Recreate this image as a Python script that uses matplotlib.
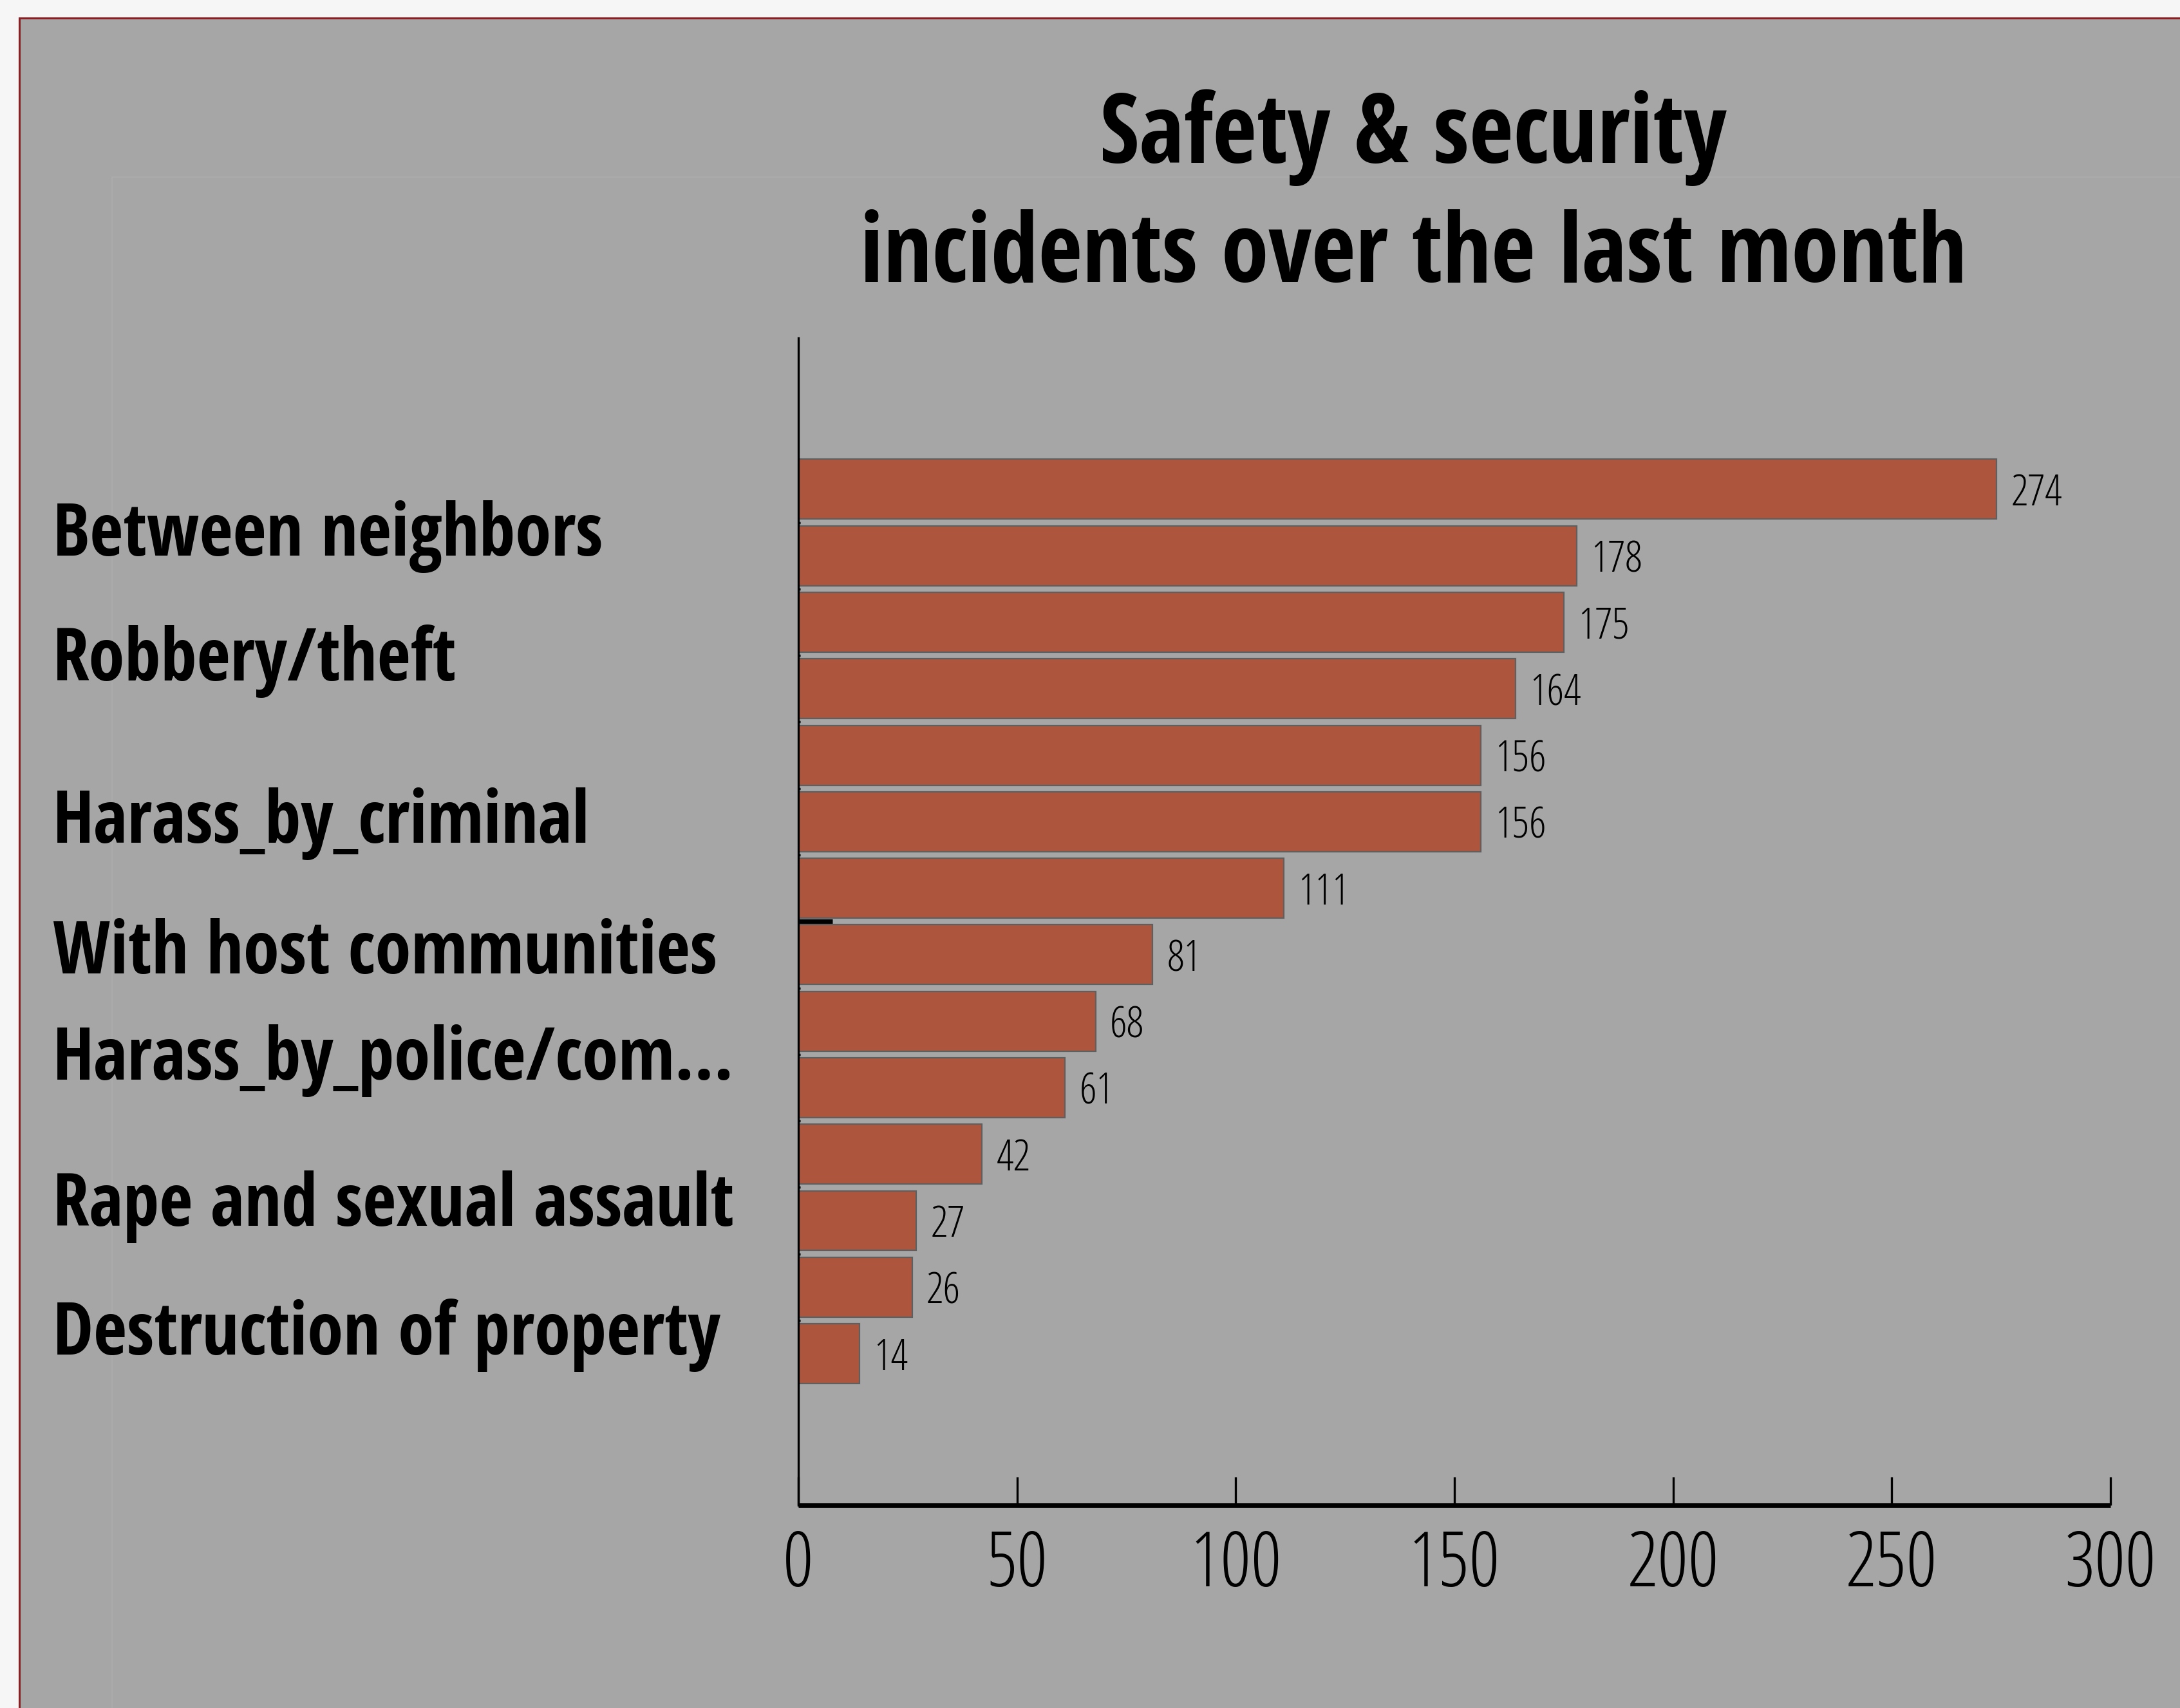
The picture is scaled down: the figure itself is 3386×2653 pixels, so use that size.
import math
import matplotlib
matplotlib.use("Agg")
import matplotlib.pyplot as plt
import matplotlib.transforms as mtransforms
from matplotlib import font_manager as fm
from matplotlib.font_manager import FontProperties
from matplotlib.textpath import TextPath
from matplotlib.patches import Rectangle

# ---- data -------------------------------------------------------------
values = [274, 178, 175, 164, 156, 156, 111, 81, 68, 61, 42, 27, 26, 14]
category_labels = [
    "Between neighbors",
    "Robbery/theft",
    "Harass_by_criminal",
    "With host communities",
    "Harass_by_police/com...",
    "Rape and sexual assault",
    "Destruction of property",
]
x_ticks = [0, 50, 100, 150, 200, 250, 300]
title_lines = ["Safety & security", "incidents over the last month"]

# ---- layout -----------------------------------------------------------
W, H, DPI = 3386, 2653, 100
label_rows = [1.0, 2.88, 5.32, 7.28, 8.88, 11.08, 13.01]   # baseline rows of the side labels
PANEL = "#a6a6a6"
BAR = "#ad553d"
BAR_EDGE = "#5f5f5f"

ALLOWED = {
    "DejaVu Sans", "Liberation Sans", "Liberation Sans Narrow",
    "Noto Sans", "Noto Sans Condensed", "Noto Sans SemiCondensed",
    "Noto Sans ExtraCondensed", "Roboto", "Roboto Condensed",
    "Open Sans", "Open Sans Condensed", "Open Sans SemiCondensed",
    "Lato", "Inter",
}


def _weight(f):
    w = f.weight
    if isinstance(w, str):
        w = fm.weight_dict.get(w, 400)
    return int(w)


def ink(prop, s):
    return TextPath((0, 0), s, size=100, prop=prop).get_extents()


def choose_font(weights, sample, ref_ratio):
    """Pick the installed face whose width/cap-height ratio is closest to ref_ratio."""
    best = None
    seen = set()
    for f in fm.fontManager.ttflist:
        if f.name not in ALLOWED or f.style != "normal" or f.fname in seen:
            continue
        if _weight(f) not in weights:
            continue
        seen.add(f.fname)
        try:
            prop = FontProperties(fname=f.fname)
            r = ink(prop, sample).width / ink(prop, "H").height
        except Exception:
            continue
        score = abs(math.log(r / ref_ratio))
        if best is None or score < best[0]:
            best = (score, prop)
    if best is None:
        return FontProperties(family="DejaVu Sans", weight="bold" if 700 in weights else "normal")
    return best[1]


def size_for_width(prop, s, px):
    return px * 72.0 / DPI * 100.0 / ink(prop, s).width


def size_for_height(prop, s, px):
    return px * 72.0 / DPI * 100.0 / ink(prop, s).height


title_font = choose_font({600, 700, 800}, title_lines[1], 1703 / 120)
label_font = choose_font({600, 700, 800}, category_labels[0], 844 / 90)
num_font = choose_font({300, 400}, "300", 138 / 87)

title_size = size_for_width(title_font, title_lines[1], 1703)
label_size = min(size_for_width(label_font, category_labels[0], 844),
                 size_for_width(label_font, category_labels[4], 1060))
tick_size = size_for_height(num_font, "0", 87)
value_size = size_for_height(num_font, "274", 48)


def fp(base, size):
    p = base.copy()
    p.set_size(size)
    return p


# ---- figure -----------------------------------------------------------
fig = plt.figure(figsize=(W / DPI, H / DPI), dpi=DPI, facecolor="#f6f6f6")

panel = Rectangle((29.5 / W, -0.02), 1.2, 1 - 28.0 / H + 0.02,
                  transform=fig.transFigure, facecolor=PANEL,
                  edgecolor="#8c1d23", linewidth=2.2, zorder=-10)
fig.add_artist(panel)
inner = Rectangle((174.0 / W, -0.02), 1.2, 1 - 275.0 / H + 0.02,
                  transform=fig.transFigure, fill=False,
                  edgecolor="#adadad", linewidth=1.2, zorder=-9)
fig.add_artist(inner)

x0, x1 = 1240.0 / W, 3278.0 / W
y0, y1 = 1 - 2338.0 / H, 1 - 525.0 / H
ax = fig.add_axes([x0, y0, x1 - x0, y1 - y0])
ax.patch.set_visible(False)

rows = list(range(len(values)))
bars = ax.barh(rows, values, height=0.9, color=BAR, edgecolor=BAR_EDGE,
               linewidth=1.6, zorder=2)

ax.set_xlim(0, 300)
ax.set_ylim(15.28, -2.275)

for spine in ("top", "right"):
    ax.spines[spine].set_visible(False)
ax.spines["left"].set_linewidth(2.4)
ax.spines["left"].set_color("black")
ax.spines["bottom"].set_linewidth(5)
ax.spines["bottom"].set_color("black")
ax.spines["bottom"].set_capstyle("butt")

ax.set_xticks(x_ticks)
ax.set_xticklabels([str(t) for t in x_ticks], fontproperties=fp(num_font, tick_size))
ax.tick_params(axis="x", direction="in", length=32, width=2.4, color="black", pad=26)

# small separators between bars on the value axis
sep = [i + 0.5 for i in range(len(values) - 1) if i != 6]
ax.set_yticks(sep)
ax.set_yticklabels([])
ax.tick_params(axis="y", which="major", direction="in", length=2.5, width=2.5,
               color="black", left=True)
ax.set_yticks([6.5], minor=True)
ax.tick_params(axis="y", which="minor", direction="in", length=38, width=5,
               color="black")

# value labels
for b, v in zip(bars, values):
    ax.annotate(str(v), xy=(v, b.get_y() + b.get_height() / 2),
                xytext=(16, 0), textcoords="offset points",
                ha="left", va="center_baseline",
                fontproperties=fp(num_font, value_size), color="black")

# side labels
side = mtransforms.blended_transform_factory(fig.transFigure, ax.transData)
for text, row in zip(category_labels, label_rows):
    ax.text(82.0 / W, row, text, transform=side, ha="left", va="baseline",
            fontproperties=fp(label_font, label_size), color="black",
            clip_on=False)

# title
tx = 2195.0 / W
fig.text(tx, 1 - 253.0 / H, title_lines[0], ha="center", va="baseline",
         fontproperties=fp(title_font, title_size), color="black")
fig.text(tx, 1 - 437.0 / H, title_lines[1], ha="center", va="baseline",
         fontproperties=fp(title_font, title_size), color="black")

fig.savefig("out.png", dpi=DPI, facecolor=fig.get_facecolor())
